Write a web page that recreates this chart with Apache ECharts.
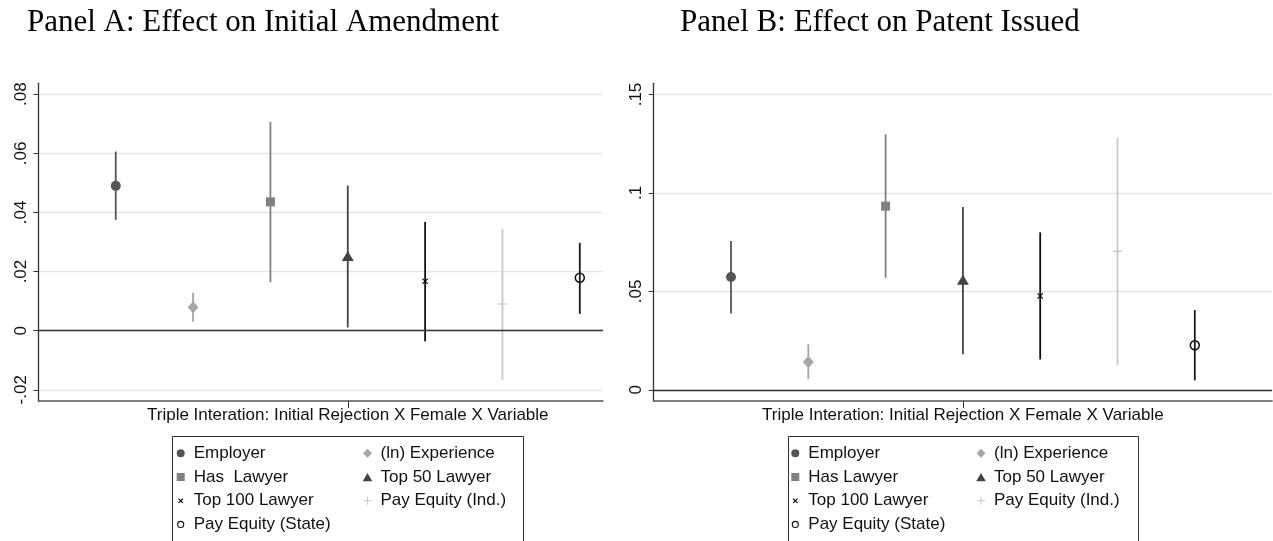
<!DOCTYPE html>
<html><head><meta charset="utf-8">
<script src="https://cdn.jsdelivr.net/npm/echarts@6/dist/echarts.min.js"></script>
<style>html,body{margin:0;padding:0;background:#fff}#c{width:1273px;height:541px}</style>
</head><body><div id="c"></div>
<script>
// ---- data ----
const titleA = 'Panel A: Effect on Initial Amendment';
const titleB = 'Panel B: Effect on Patent Issued';
const xAxisLabel = 'Triple Interation: Initial Rejection X Female X Variable';
const categoriesA = ['Employer','(ln) Experience','Has  Lawyer','Top 50 Lawyer','Top 100 Lawyer','Pay Equity (Ind.)','Pay Equity (State)'];
const categoriesB = ['Employer','(ln) Experience','Has Lawyer','Top 50 Lawyer','Top 100 Lawyer','Pay Equity (Ind.)','Pay Equity (State)'];
const positions = [1, 2, 3, 4, 5, 6, 7];
const estA = [0.0490, 0.0079, 0.0436, 0.0253, 0.0167, 0.0090, 0.0179];
const loA  = [0.0375, 0.0030, 0.0164, 0.0011, -0.0036, -0.0166, 0.0057];
const hiA  = [0.0606, 0.0128, 0.0706, 0.0491, 0.0368, 0.0345, 0.0297];
const estB = [0.0573, 0.0141, 0.0933, 0.0559, 0.0476, 0.0703, 0.0226];
const loB  = [0.0388, 0.0054, 0.0569, 0.0180, 0.0154, 0.0125, 0.0048];
const hiB  = [0.0756, 0.0231, 0.1298, 0.0928, 0.0800, 0.1282, 0.0405];
const yTicksA = [-0.02, 0, 0.02, 0.04, 0.06, 0.08];
const yTickLabelsA = ['-.02', '0', '.02', '.04', '.06', '.08'];
const yTicksB = [0, 0.05, 0.1, 0.15];
const yTickLabelsB = ['0', '.05', '.1', '.15'];
const xTickValue = 4;
const legendCol1 = [0, 2, 4, 6];
const legendCol2 = [1, 3, 5];

// ---- styles ----
const X_PATH = 'path://M0,1.3L1.3,0L5,3.7L8.7,0L10,1.3L6.3,5L10,8.7L8.7,10L5,6.3L1.3,10L0,8.7L3.7,5Z';
const PLUS_PATH = 'path://M4.4,0H5.6V4.4H10V5.6H5.6V10H4.4V5.6H0V4.4H4.4Z';
// legend icons drawn in a 10x10 frame (zero-area corner points fix the frame)
const FRAME = 'M0,0L0,0L0,0ZM10,10L10,10L10,10Z';
const ICONS = [
  'path://' + FRAME + 'M1,5A4,4,0,1,1,9,5A4,4,0,1,1,1,5Z',
  'path://' + FRAME + 'M5,0.5L9.5,5L5,9.5L0.5,5Z',
  'path://' + FRAME + 'M1,1H9V9H1Z',
  'path://' + FRAME + 'M5,1L9.8,9.2L0.2,9.2Z',
  'path://' + FRAME + 'M2.4,3.2L3.2,2.4L5,4.2L6.8,2.4L7.6,3.2L5.8,5L7.6,6.8L6.8,7.6L5,5.8L3.2,7.6L2.4,6.8L4.2,5Z',
  'path://' + FRAME + 'M4.55,1H5.45V4.55H9V5.45H5.45V9H4.55V5.45H1V4.55H4.55Z',
  'path://' + FRAME + 'M1.4,5A3.6,3.6,0,1,1,8.6,5A3.6,3.6,0,1,1,1.4,5ZM2.5,5A2.5,2.5,0,1,0,7.5,5A2.5,2.5,0,1,0,2.5,5Z'
];
const markers = [
  {symbol: 'circle', size: 10, color: '#555555', line: '#555555'},
  {symbol: 'diamond', size: [11, 12], color: '#a6a6a6', line: '#a6a6a6'},
  {symbol: 'rect', size: 9, color: '#808080', line: '#808080'},
  {symbol: 'triangle', size: [12, 10], color: '#444444', line: '#444444'},
  {symbol: X_PATH, size: 6, color: '#000000', line: '#111111'},
  {symbol: PLUS_PATH, size: 9, color: '#c4c4c4', line: '#c8c8c8'},
  {symbol: 'circle', size: 9, color: 'rgba(0,0,0,0)', border: '#111111', line: '#1a1a1a'}
];
const legendColors = ['#555555', '#a6a6a6', '#808080', '#444444', '#000000', '#c4c4c4', '#111111'];
const FONT = 'Liberation Sans';

function fmt(ticks, labels) {
  return function (v) {
    const i = ticks.findIndex(t => Math.abs(t - v) < 1e-9);
    return i >= 0 ? labels[i] : '';
  };
}

function buildSeries(names, est, lo, hi, gi) {
  const out = [];
  names.forEach((name, i) => {
    const m = markers[i];
    out.push({
      type: 'custom', name: name, xAxisIndex: gi, yAxisIndex: gi, z: 2,
      data: [[positions[i], lo[i], hi[i]]],
      encode: {x: 0, y: [1, 2]},
      renderItem: function (params, api) {
        const p1 = api.coord([api.value(0), api.value(1)]);
        const p2 = api.coord([api.value(0), api.value(2)]);
        return {type: 'line', shape: {x1: p1[0], y1: p1[1], x2: p2[0], y2: p2[1]},
                style: {stroke: m.line, lineWidth: 1.8}};
      }
    });
    const s = {
      type: 'scatter', name: name, xAxisIndex: gi, yAxisIndex: gi, z: 3,
      data: [[positions[i], est[i]]],
      symbol: m.symbol, symbolSize: m.size,
      itemStyle: m.border ? {color: m.color, borderColor: m.border, borderWidth: 1.5, opacity: 1}
                          : {color: m.color, opacity: 1},
      emphasis: {disabled: true}
    };
    if (i === 0) {
      s.markLine = {silent: true, symbol: ['none', 'none'], label: {show: false},
        lineStyle: {color: '#333333', width: 1.3, type: 'solid'}, data: [{yAxis: 0}]};
    }
    out.push(s);
  });
  return out;
}

function legendCol(names, idx, left, top) {
  return {
    orient: 'vertical', left: left, top: top, padding: 0, itemGap: 0,
    itemWidth: 16, itemHeight: 10, selectedMode: false,
    textStyle: {fontFamily: FONT, fontSize: 17, color: '#111111', lineHeight: 23.7},
    data: idx.map(i => ({name: names[i], icon: ICONS[i],
                         itemStyle: {color: legendColors[i], borderWidth: 0}}))
  };
}

function xAxisCfg(gi, max) {
  return {
    type: 'value', gridIndex: gi, min: 0, max: max,
    axisLine: {show: true, onZero: false, lineStyle: {color: '#555555', width: 1.5}},
    axisTick: {show: true, customValues: [xTickValue], length: 7, lineStyle: {color: '#333333', width: 1}},
    axisLabel: {show: true, customValues: [xTickValue], formatter: () => xAxisLabel, margin: 6,
                fontFamily: FONT, fontSize: 17, color: '#111111'},
    splitLine: {show: false}
  };
}

function yAxisCfg(gi, min, max, ticks, labels) {
  return {
    type: 'value', gridIndex: gi, min: min, max: max,
    axisLine: {show: true, onZero: false, lineStyle: {color: '#333333', width: 1.3}},
    axisTick: {show: true, customValues: ticks, length: 5, lineStyle: {color: '#333333', width: 1}},
    axisLabel: {show: true, customValues: ticks, formatter: fmt(ticks, labels), rotate: 90, margin: 9,
                fontFamily: FONT, fontSize: 17, color: '#111111'},
    splitLine: {show: true, lineStyle: {color: '#e6e6e6', width: 1.3}}
  };
}

const chart = echarts.init(document.getElementById('c'), null, {renderer: 'canvas'});
chart.setOption({
  backgroundColor: '#ffffff',
  animation: false,
  title: [
    {text: titleA, left: 27, top: 7, padding: 0,
     textStyle: {fontFamily: 'Liberation Serif', fontSize: 31, fontWeight: 'normal', color: '#000000'}},
    {text: titleB, left: 680, top: 7, padding: 0,
     textStyle: {fontFamily: 'Liberation Serif', fontSize: 31, fontWeight: 'normal', color: '#000000'}}
  ],
  grid: [
    {left: 38.4, top: 83.3, width: 564.6, height: 317.7, show: false},
    {left: 653.7, top: 83.3, width: 618.4, height: 317.7, show: false}
  ],
  xAxis: [xAxisCfg(0, 7.3), xAxisCfg(1, 8)],
  yAxis: [
    yAxisCfg(0, -0.0238, 0.0837, yTicksA, yTickLabelsA),
    yAxisCfg(1, -0.0057, 0.1557, yTicksB, yTickLabelsB)
  ],
  legend: [
    legendCol(categoriesA, legendCol1, 175.7, 441.5),
    legendCol(categoriesA, legendCol2, 362.5, 441.5),
    legendCol(categoriesB, legendCol1, 790.3, 441.5),
    legendCol(categoriesB, legendCol2, 976, 441.5)
  ],
  graphic: [
    {type: 'rect', shape: {x: 172.5, y: 436.5, width: 351, height: 120},
     style: {fill: 'none', stroke: '#333333', lineWidth: 1}, silent: true},
    {type: 'rect', shape: {x: 788.5, y: 436.5, width: 350, height: 120},
     style: {fill: 'none', stroke: '#333333', lineWidth: 1}, silent: true}
  ],
  series: buildSeries(categoriesA, estA, loA, hiA, 0).concat(buildSeries(categoriesB, estB, loB, hiB, 1))
});
</script>
</body></html>
